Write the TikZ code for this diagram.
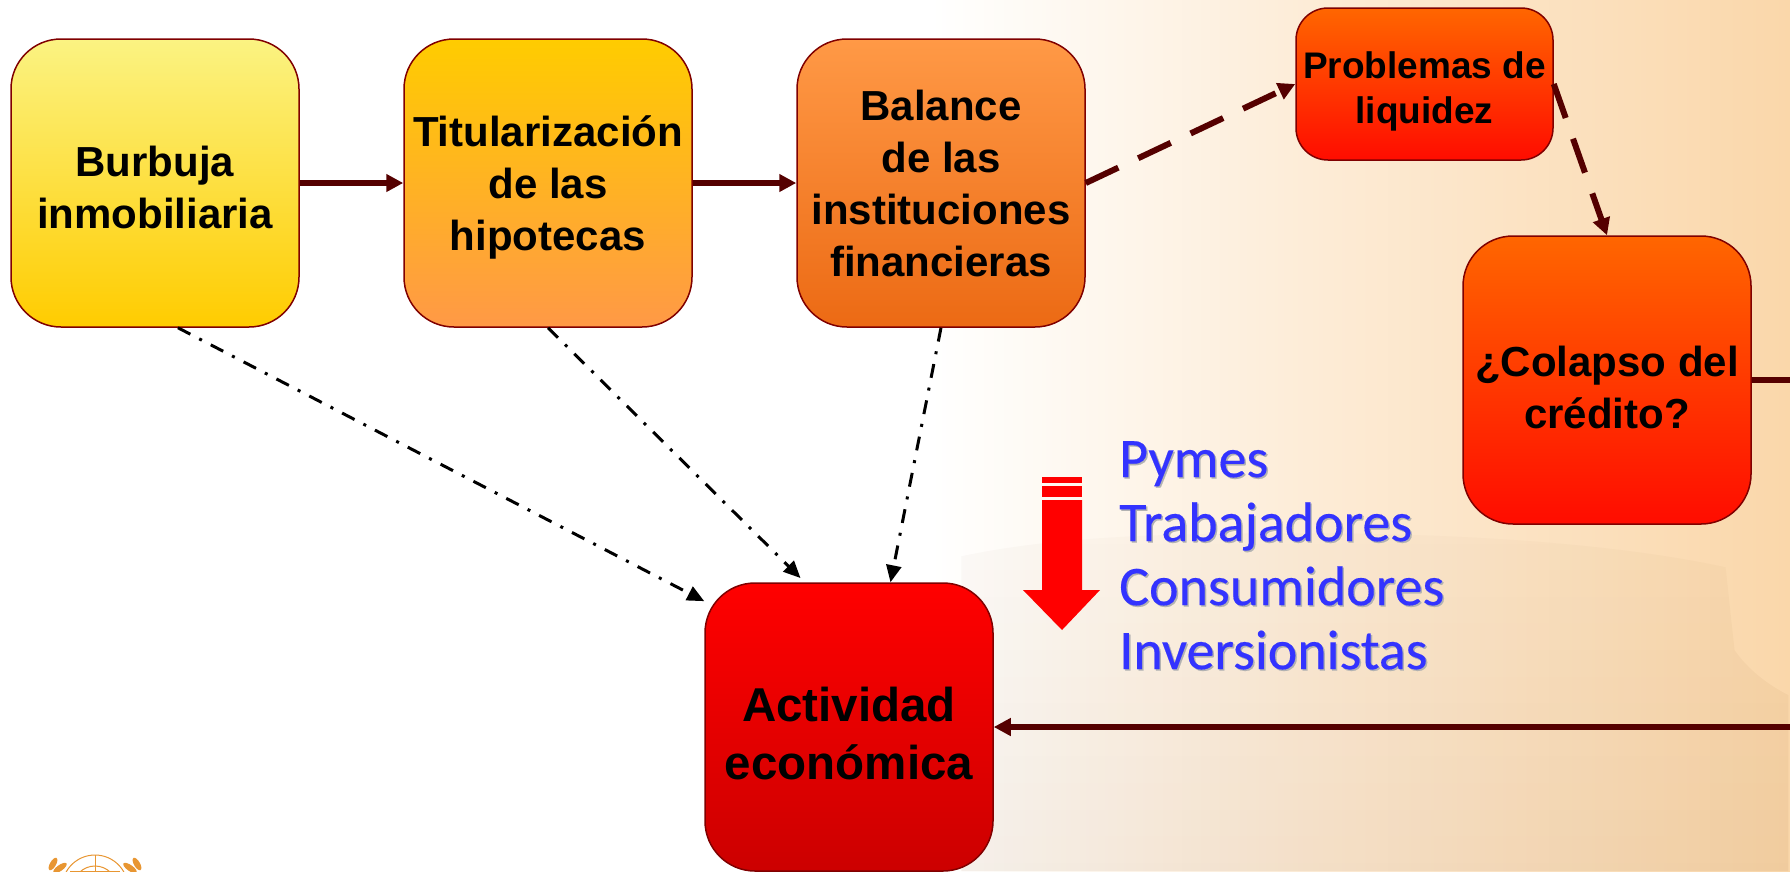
\documentclass[tikz,border=0pt]{standalone}
\usepackage{fontspec}
\setmainfont{Liberation Sans}
\newfontfamily\grupofont[FakeBold=0.3]{Carlito}
\usepackage{tikz}
\usetikzlibrary{
    calc,
    fadings,
    arrows.meta
}
\definecolor{borde}{RGB}{128,0,0}
\definecolor{flecha}{RGB}{85,0,0}
\definecolor{azul}{RGB}{51,51,255}
\definecolor{emblema}{RGB}{232,150,50}
\definecolor{edificio}{RGB}{122,55,0}
\definecolor{fondo_a}{RGB}{254,249,242}
\definecolor{fondo_b}{RGB}{253,236,215}
\definecolor{fondo_c}{RGB}{250,215,170}
\pgfdeclarehorizontalshading{fondo}{100bp}{
    color(0bp)=(white);
    color(51bp)=(white);
    color(54.5bp)=(fondo_a);
    color(61.5bp)=(fondo_b);
    color(75bp)=(fondo_c);
    color(100bp)=(fondo_c)
}
\tikzfading[name=edificio fade, top color=transparent!98, bottom color=transparent!93]
\newcommand{\sombreado}[1]{%
    \rlap{\raisebox{-1.5pt}{\hspace{1.5pt}\textcolor{black!30}{#1}}}#1%
}
\newcommand{\bajar}[1]{\rule{0pt}{#1}}
\tikzset{
    caja/.style n args={2}{
        shape=rectangle, rounded corners=#1, draw=borde, line width=1.5pt,
        align=center, inner sep=0pt, #2
    },
    grande/.style={
        caja={50pt}{minimum width=288pt, minimum height=288pt},
        font=\fontsize{42}{52}\selectfont\bfseries
    },
    chica/.style={
        caja={32pt}{minimum width=257pt, minimum height=152pt},
        font=\fontsize{37}{45}\selectfont\bfseries
    },
    solida/.style={
        draw=flecha, line width=5.5pt,
        -{Triangle[length=17pt, width=17pt]}
    },
    rayada/.style={
        solida, line width=6pt, dash pattern=on 36pt off 22pt
    },
    punteada/.style={
        draw=black, line width=3pt, dash pattern=on 14pt off 10pt on 3pt off 10pt,
        -{Triangle[length=17pt, width=15pt]}
    },
}

\begin{document}
\begin{tikzpicture}[x=1pt, y=-1pt]
    \useasboundingbox (0,0) rectangle (1790,871);
    \shade[shading=fondo] (0,0) rectangle (1790,871);

    % edificio
    \fill[edificio, path fading=edificio fade, fit fading=true]
        (962,556) .. controls (1060,535) and (1180,533) .. (1300,533)
        .. controls (1500,533) and (1640,548) .. (1727,567)
        -- (1736,650) .. controls (1750,670) and (1770,685) .. (1790,695)
        -- (1790,871) -- (962,871) -- cycle;

    % emblema
    \begin{scope}[draw=emblema, line width=1pt]
        \draw (95,888) circle (33);
        \draw (95,888) circle (22);
        \draw (95,855) -- (95,871);
        \draw (70,871) -- (120,871);
        \fill[emblema] (60,868) ellipse[x radius=8, y radius=3, rotate=35];
        \fill[emblema] (53,864) ellipse[x radius=7, y radius=3, rotate=60];
        \fill[emblema] (130,868) ellipse[x radius=8, y radius=3, rotate=-35];
        \fill[emblema] (137,864) ellipse[x radius=7, y radius=3, rotate=-60];
    \end{scope}

    \node[grande, top color={rgb,255:red,251;green,243;blue,130}, bottom color={rgb,255:red,255;green,204;blue,0}] (burbuja) at (155,183) {\bajar{38.5pt}Burbuja\\inmobiliaria};
    \node[grande, top color={rgb,255:red,255;green,204;blue,0}, bottom color={rgb,255:red,255;green,153;blue,70}] (titulos) at (548,183) {\bajar{40.5pt}Titularización\\de las\\hipotecas};
    \node[grande, top color={rgb,255:red,255;green,153;blue,70}, bottom color={rgb,255:red,236;green,106;blue,20}] (balance) at (941,183) {Balance\\de las\\instituciones\\financieras};
    \node[chica, top color={rgb,255:red,255;green,102;blue,0}, bottom color={rgb,255:red,255;green,12;blue,0}] (liquidez) at (1424.5,84) {\bajar{41pt}Problemas de\\liquidez};
    \node[grande, top color={rgb,255:red,255;green,102;blue,0}, bottom color={rgb,255:red,255;green,12;blue,0}] (colapso) at (1607,380) {\bajar{44.5pt}¿Colapso del\\crédito?};
    \node[grande, font=\fontsize{47.5}{58}\selectfont\bfseries, top color=red, bottom color={rgb,255:red,204;green,0;blue,0}] (actividad) at (849,727) {\bajar{46.7pt}Actividad\\económica};

    \coordinate (salida) at (1795,380);
    \coordinate (entrada) at (1795,727);

    \draw[solida] (burbuja.east) -- (titulos.west);
    \draw[solida] (titulos.east) -- (balance.west);
    \draw[rayada] (balance.east) -- (liquidez.west);
    \draw[rayada] (liquidez.east) -- (colapso.north);
    \draw[draw=flecha, line width=5.5pt] (colapso.east) -- (salida);
    \draw[solida] (entrada) -- (actividad.east);

    \draw[punteada] (burbuja.-81) -- (actividad.139);
    \draw[punteada, shorten >=6pt] (titulos.south) -- (actividad.107);
    \draw[punteada] (balance.south) -- (actividad.74);

    % flecha roja
    \fill[red] (1042,477) rectangle (1082,483);
    \fill[red] (1042,486) rectangle (1082,497);
    \fill[red] (1042,500) -- (1082,500) -- (1082,590) -- (1100,590)
        -- (1062,630) -- (1023,590) -- (1042,590) -- cycle;

    \node[
        anchor=north west, align=left, inner sep=0pt, text=azul,
        font=\fontsize{56}{64}\selectfont\grupofont
    ] (grupos) at (1119,441) {
        \sombreado{Pymes}\\
        \sombreado{Trabajadores}\\
        \sombreado{Consumidores}\\
        \sombreado{Inversionistas}
    };
\end{tikzpicture}
\end{document}
